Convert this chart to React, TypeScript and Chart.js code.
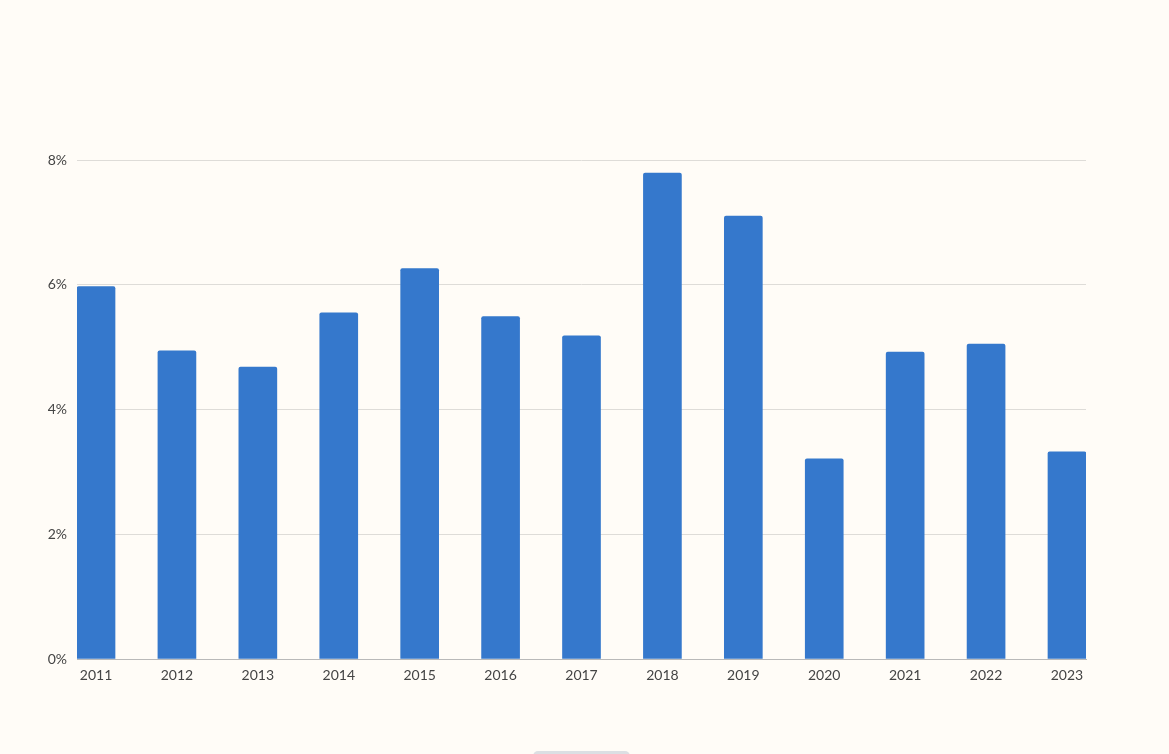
import React, { useEffect, useRef } from "react";
import { Chart, registerables } from "chart.js";

Chart.register(...registerables);

const years = ["2011", "2012", "2013", "2014", "2015", "2016", "2017", "2018", "2019", "2020", "2021", "2022", "2023"];
const values = [5.97, 4.94, 4.68, 5.55, 6.26, 5.49, 5.18, 7.79, 7.10, 3.21, 4.92, 5.05, 3.32];
const yTicks = [0, 2, 4, 6, 8];

export default function App() {
  const ref = useRef<HTMLCanvasElement>(null);

  useEffect(() => {
    document.body.style.margin = "0";
    const ctx = ref.current!;
    const chart = new Chart(ctx, {
      type: "bar",
      data: {
        datasets: [
          {
            data: values.map((v, i) => ({ x: i, y: v })),
            backgroundColor: "#3578CC",
            borderWidth: 0,
            borderRadius: 2,
            borderSkipped: "bottom",
            barThickness: 38,
          },
        ],
      },
      options: {
        animation: false,
        responsive: false,
        maintainAspectRatio: false,
        layout: { padding: { left: 0, right: 83, top: 160, bottom: 55 } },
        plugins: { legend: { display: false }, tooltip: { enabled: false } },
        scales: {
          x: {
            type: "linear",
            offset: false,
            min: -0.235,
            max: 12.235,
            afterBuildTicks: (s: any) => {
              s.ticks = years.map((_, i) => ({ value: i }));
            },
            afterFit: (s: any) => {
              s.height = 40;
            },
            grid: { display: false },
            border: { display: true, color: "#b9b9b9", width: 1 },
            ticks: {
              autoSkip: false,
              maxRotation: 0,
              padding: 0,
              color: "#444444",
              font: { family: "Lato", size: 14 },
              callback: (v: any) => years[Math.round(Number(v))] ?? "",
            },
          },
          y: {
            min: 0,
            max: 8,
            afterBuildTicks: (s: any) => {
              s.ticks = yTicks.map((v) => ({ value: v }));
            },
            afterFit: (s: any) => {
              s.width = 77;
            },
            grid: { color: "#dedcd8", lineWidth: 1, drawTicks: false },
            border: { display: false },
            ticks: {
              padding: 10,
              color: "#444444",
              font: { family: "Lato", size: 14 },
              callback: (v: any) => v + "%",
            },
          },
        },
      },
    });
    return () => chart.destroy();
  }, []);

  return (
    <div style={{ position: "fixed", left: 0, top: 0, width: 1169, height: 754, background: "#FFFCF7", overflow: "hidden" }}>
      <canvas ref={ref} width={1169} height={754} style={{ display: "block", width: 1169, height: 754 }} />
      <div
        style={{
          position: "absolute",
          left: 533,
          top: 751,
          width: 97,
          height: 10,
          borderRadius: 6,
          background: "#dcdfe3",
        }}
      />
    </div>
  );
}
